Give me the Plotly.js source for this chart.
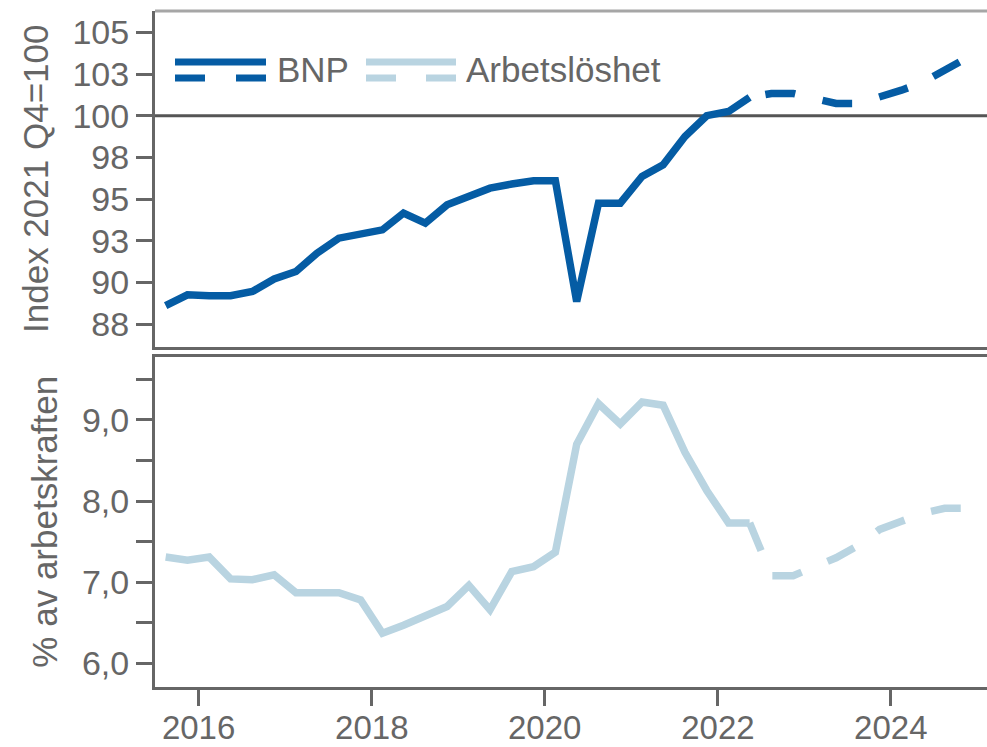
<!DOCTYPE html>
<html>
<head>
<meta charset="utf-8">
<script src="https://cdn.plot.ly/plotly-3.0.1.min.js"></script>
<style>
html, body { margin: 0; padding: 0; background: #fff; }
#chart { width: 987px; height: 747px; }
</style>
</head>
<body>
<div id="chart"></div>
<script>
// quarterly data, plotted at the middle of each quarter
const actualStart = [2015, 3];
const forecastStart = [2022, 2];

// BNP, index 2021 Q4 = 100 (2015 Q3 - 2022 Q2)
const bnpActual = [88.6, 89.25, 89.2, 89.2, 89.45, 90.2, 90.65, 91.75, 92.65, 92.85,
                   93.15, 94.15, 93.55, 94.65, 95.15, 95.65, 95.9, 96.1, 96.1, 88.85,
                   94.75, 94.75, 96.35, 97.05, 98.75, 100.0, 100.25, 101.1];
// BNP forecast (2022 Q2 - 2024 Q4)
const bnpForecast = [101.1, 101.33, 101.33, 101.05, 100.73, 100.73, 101.1, 101.53, 102.0, 102.78, 103.45];

// Arbetslöshet, % av arbetskraften (2015 Q3 - 2022 Q2)
const unempActual = [7.31, 7.27, 7.31, 7.04, 7.03, 7.09, 6.87, 6.87, 6.87, 6.78,
                     6.37, 6.47, 6.58, 6.70, 6.96, 6.66, 7.13, 7.19, 7.37, 8.70,
                     9.20, 8.95, 9.22, 9.18, 8.60, 8.13, 7.73, 7.73];
// Arbetslöshet forecast (2022 Q2 - 2024 Q4)
const unempForecast = [7.73, 7.08, 7.08, 7.18, 7.30, 7.45, 7.65, 7.75, 7.85, 7.91, 7.91];

const seriesNames = ['BNP', 'Arbetslöshet'];
const yTitles = ['Index 2021 Q4=100', '% av arbetskraften'];

const bnpColor = '#055CA4';
const unempColor = '#B9D4E1';
const axisColor = '#666666';
const textColor = '#666666';
const font = 'Liberation Sans, Arial, sans-serif';

function quarterDates(start, n) {
    let dates = [];
    let y = start[0], q = start[1];
    for (let i = 0; i < n; i += 1) {
        let month = 3 * (q - 1) + 2;
        dates.push(y + '-' + (month < 10 ? '0' : '') + month + '-15');
        q += 1;
        if (q > 4) { q = 1; y += 1; }
    }
    return dates;
}

const actualDates = quarterDates(actualStart, bnpActual.length);
const forecastDates = quarterDates(forecastStart, bnpForecast.length);

// pixel helpers for the hand-drawn legend
const W = 987, H = 747;
const M = {l: 155, r: 0, t: 11, b: 60};
function px(x) { return (x - M.l) / (W - M.l - M.r); }
function py(y) { return (H - M.b - y) / (H - M.t - M.b); }

const dashPattern = '30px,28px';
// the BNP forecast starts with a short gap before the first dash
const bnpDash = '0px,16px,30px,28px,30px,28px,30px,28px,30px,28px,30px,28px';

const data = [
    {x: actualDates, y: bnpActual, xaxis: 'x', yaxis: 'y', type: 'scatter', mode: 'lines',
     line: {color: bnpColor, width: 7.5}, name: seriesNames[0]},
    {x: forecastDates, y: bnpForecast, xaxis: 'x', yaxis: 'y', type: 'scatter', mode: 'lines',
     line: {color: bnpColor, width: 7.5, dash: bnpDash}, name: seriesNames[0]},
    {x: actualDates, y: unempActual, xaxis: 'x2', yaxis: 'y2', type: 'scatter', mode: 'lines',
     line: {color: unempColor, width: 7.5}, name: seriesNames[1]},
    {x: forecastDates, y: unempForecast, xaxis: 'x2', yaxis: 'y2', type: 'scatter', mode: 'lines',
     line: {color: unempColor, width: 7.5, dash: dashPattern}, name: seriesNames[1]}
];

const tickFont = {family: font, size: 34, color: textColor};
const xTickFont = {family: font, size: 33, color: textColor};
const titleFont = {family: font, size: 35, color: textColor};
const xRange = ['2015-07-01', '2025-02-10'];

const layout = {
    width: W,
    height: H,
    margin: M,
    paper_bgcolor: '#fff',
    plot_bgcolor: '#fff',
    showlegend: false,
    separators: ', ',
    font: {family: font, color: textColor},
    xaxis: {
        domain: [0, 1], anchor: 'y', type: 'date', range: xRange,
        showgrid: false, zeroline: false, showline: true, linecolor: axisColor, linewidth: 3,
        ticks: '', showticklabels: false
    },
    xaxis2: {
        domain: [0, 1], anchor: 'y2', type: 'date', range: xRange, matches: 'x',
        showgrid: false, zeroline: false, showline: true, mirror: true, linecolor: axisColor, linewidth: 3,
        ticks: 'outside', ticklen: 16, tickwidth: 3, tickcolor: axisColor,
        tick0: '2016-01-01', dtick: 'M24', tickformat: '%Y', tickfont: xTickFont,
        ticklabelstandoff: -7
    },
    yaxis: {
        domain: [py(346.5), 1], anchor: 'x', range: [86.15, 106.28],
        showgrid: false, zeroline: false, showline: true, linecolor: axisColor, linewidth: 3,
        ticks: 'outside', ticklen: 16, tickwidth: 3, tickcolor: axisColor,
        tick0: 0, dtick: 2.5, tickformat: '.0f', tickfont: tickFont,
        title: {text: yTitles[0], font: titleFont, standoff: 14}
    },
    yaxis2: {
        domain: [0, py(356.5)], anchor: 'x2', range: [5.708, 9.781],
        showgrid: false, zeroline: false, showline: true, linecolor: axisColor, linewidth: 3,
        ticks: 'outside', ticklen: 16, tickwidth: 3, tickcolor: axisColor,
        tick0: 0, dtick: 1, tickformat: '.1f', tickfont: tickFont,
        minor: {dtick: 0.5, ticks: 'outside', ticklen: 16, tickwidth: 3, tickcolor: axisColor, showgrid: false},
        title: {text: yTitles[1], font: titleFont, standoff: 14}
    },
    shapes: [
        // top border of upper panel
        {type: 'line', xref: 'paper', yref: 'paper', x0: 0, x1: 1, y0: 1, y1: 1,
         line: {color: '#a6a6a6', width: 3}},
        // reference line at 100
        {type: 'line', xref: 'paper', yref: 'y', x0: 0, x1: 1, y0: 100, y1: 100, layer: 'below',
         line: {color: '#555555', width: 3}},
        // legend swatches
        {type: 'line', xref: 'paper', yref: 'paper', x0: px(175), x1: px(266), y0: py(62), y1: py(62),
         line: {color: bnpColor, width: 7}},
        {type: 'line', xref: 'paper', yref: 'paper', x0: px(175), x1: px(266), y0: py(78), y1: py(78),
         line: {color: bnpColor, width: 7, dash: '30px,31px'}},
        {type: 'line', xref: 'paper', yref: 'paper', x0: px(366), x1: px(456), y0: py(62), y1: py(62),
         line: {color: unempColor, width: 7}},
        {type: 'line', xref: 'paper', yref: 'paper', x0: px(366), x1: px(456), y0: py(78), y1: py(78),
         line: {color: unempColor, width: 7, dash: '30px,30px'}}
    ],
    annotations: [
        {text: seriesNames[0], xref: 'paper', yref: 'paper', x: px(275), y: py(69),
         xanchor: 'left', yanchor: 'middle', showarrow: false, font: titleFont},
        {text: seriesNames[1], xref: 'paper', yref: 'paper', x: px(464), y: py(69),
         xanchor: 'left', yanchor: 'middle', showarrow: false, font: titleFont}
    ]
};

Plotly.newPlot('chart', data, layout, {displayModeBar: false, staticPlot: true});
</script>
</body>
</html>
